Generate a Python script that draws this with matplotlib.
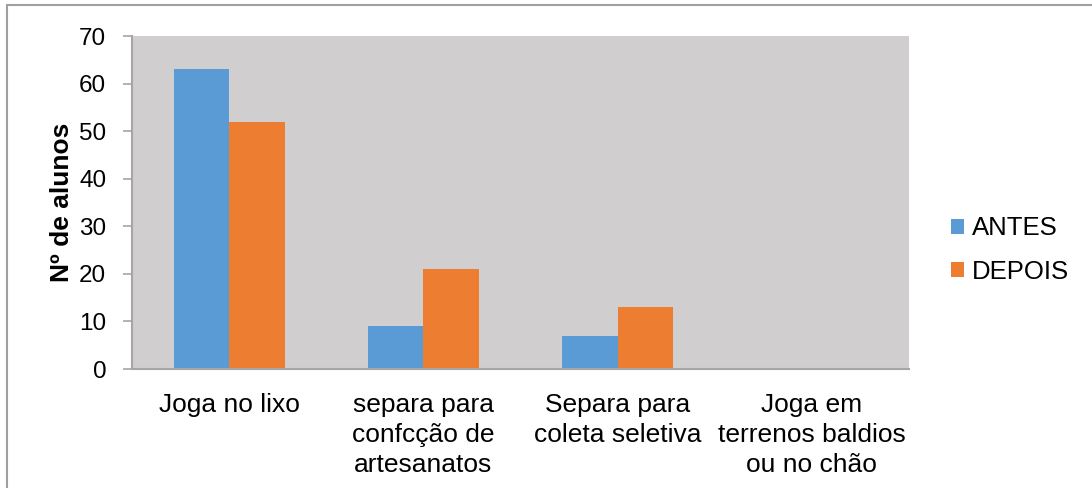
import numpy as np
import matplotlib.pyplot as plt
from matplotlib.patches import Rectangle

# Respostas dos alunos antes e depois
categorias = ["Joga no lixo", "separa para\nconfcção de\nartesanatos",
              "Separa para\ncoleta seletiva", "Joga em\nterrenos baldios\nou no chão"]
antes = [63, 9, 7, 0]
depois = [52, 21, 13, 0]
series = ["ANTES", "DEPOIS"]
cores = ["#5B9BD5", "#ED7D31"]
yticks = [0, 10, 20, 30, 40, 50, 60, 70]

plt.rcParams['font.family'] = ['Liberation Sans', 'DejaVu Sans']

fig = plt.figure(figsize=(10.92, 4.88), dpi=100)
fig.patches.append(Rectangle((7 / 1092, -0.1), 1.2, 1 - 5 / 488 + 0.1,
                             transform=fig.transFigure, fill=False,
                             edgecolor="#A0A0A0", linewidth=1.5, zorder=0))

ax = fig.add_axes([132 / 1092, 1 - 369 / 488, 777 / 1092, 333 / 488])
ax.set_facecolor("#D0CECE")

x = np.arange(len(categorias))
w = 0.286
ax.bar(x - w / 2, antes, w, color=cores[0], label=series[0], zorder=2)
ax.bar(x + w / 2, depois, w, color=cores[1], label=series[1], zorder=2)

ax.set_xlim(-0.5, len(categorias) - 0.5)
ax.set_ylim(0, 70)
ax.set_yticks(yticks)
ax.set_yticklabels([str(v) for v in yticks], fontsize=17.5)
ax.set_xticks(x)
ax.set_xticklabels(categorias, fontsize=19, linespacing=1.3)
ax.tick_params(axis='x', length=0, pad=17.5)
ax.tick_params(axis='y', length=6.5, width=1.2, color="#A6A6A6", pad=12)

for side in ['top', 'right']:
    ax.spines[side].set_visible(False)
for side in ['left', 'bottom']:
    ax.spines[side].set_color("#A6A6A6")
    ax.spines[side].set_linewidth(1.5)

ax.set_ylabel("Nº de alunos", fontsize=19, fontweight='bold', labelpad=4)

ax.legend(loc='center left', bbox_to_anchor=(1.054, 0.357), frameon=False,
          fontsize=18.5, handlelength=0.52, handleheight=0.52, borderpad=0,
          borderaxespad=0, handletextpad=0.3, labelspacing=0.75)

fig.savefig("out.png", dpi=100)
